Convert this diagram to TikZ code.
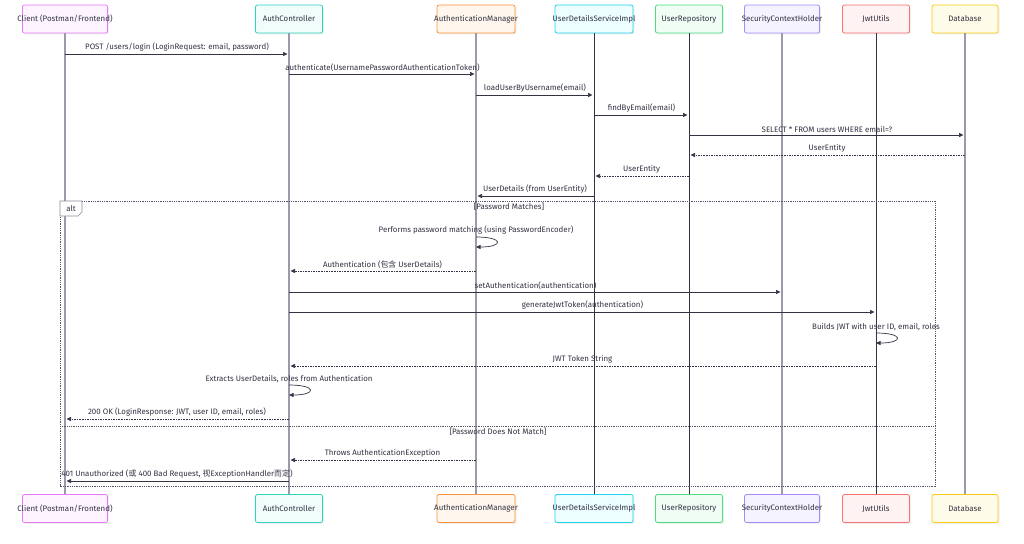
\documentclass[tikz,border=0pt]{standalone}
\usepackage{fontspec}
\setmainfont{Fira Sans}
\newfontfamily\cjk{Noto Sans CJK SC}
\usetikzlibrary{arrows.meta,shadows}
\definecolor{ink}{HTML}{333344}
\definecolor{lifegray}{HTML}{9C9AA8}
\definecolor{framegray}{HTML}{55556A}
\definecolor{ctB}{HTML}{E879F9}\definecolor{ctF}{HTML}{FDF4FF}
\definecolor{acB}{HTML}{2DD4BF}\definecolor{acF}{HTML}{F0FDFA}
\definecolor{amB}{HTML}{FB923C}\definecolor{amF}{HTML}{FFF7ED}
\definecolor{udB}{HTML}{22D3EE}\definecolor{udF}{HTML}{ECFEFF}
\definecolor{urB}{HTML}{4ADE80}\definecolor{urF}{HTML}{F0FDF4}
\definecolor{scB}{HTML}{A78BFA}\definecolor{scF}{HTML}{F5F3FF}
\definecolor{jwB}{HTML}{F87171}\definecolor{jwF}{HTML}{FEF2F2}
\definecolor{dbB}{HTML}{FACC15}\definecolor{dbF}{HTML}{FEFCE8}

\begin{document}
\begin{tikzpicture}[x=1pt,y=-1pt,
  font=\fontsize{7.9}{9.5}\selectfont, text=ink,
  party/.style={rounded corners=2pt, line width=0.8pt, minimum height=28pt, inner sep=0pt,
    drop shadow={opacity=0.12, shadow xshift=1.5pt, shadow yshift=-1.5pt}},
  life/.style={line width=1.3pt, lifegray},
  lifedark/.style={line width=0.8pt, ink},
  msg/.style={ink, line width=0.7pt, shorten >=1.5pt, -{Triangle[length=4.5pt,width=4pt]}},
  reply/.style={msg, dash pattern=on 1.6pt off 1pt},
  lbl/.style={above, inner sep=2.2pt},
  altframe/.style={framegray, line width=0.6pt, dash pattern=on 1pt off 0.8pt}]
\useasboundingbox (0,0) rectangle (1024,543);
\fill[white] (0,0) rectangle (1024,543);
% participants, top and bottom
\node[party, draw=ctB, fill=ctF, minimum width=85pt] (ct) at (65,19) {\makebox[0pt]{Client (Postman/Frontend)}};
\node[party, draw=acB, fill=acF, minimum width=67pt] (ac) at (289,19) {\makebox[0pt]{AuthController}};
\node[party, draw=amB, fill=amF, minimum width=78pt] (am) at (476,19) {\makebox[0pt]{AuthenticationManager}};
\node[party, draw=udB, fill=udF, minimum width=78pt] (ud) at (594,19) {\makebox[0pt]{UserDetailsServiceImpl}};
\node[party, draw=urB, fill=urF, minimum width=67pt] (ur) at (689,19) {\makebox[0pt]{UserRepository}};
\node[party, draw=scB, fill=scF, minimum width=75pt] (sc) at (782,19) {\makebox[0pt]{SecurityContextHolder}};
\node[party, draw=jwB, fill=jwF, minimum width=67pt] (jw) at (876,19) {\makebox[0pt]{JwtUtils}};
\node[party, draw=dbB, fill=dbF, minimum width=66pt] (db) at (965,19) {\makebox[0pt]{Database}};
\node[party, draw=ctB, fill=ctF, minimum width=85pt] (ctb) at (65,508.5) {\makebox[0pt]{Client (Postman/Frontend)}};
\node[party, draw=acB, fill=acF, minimum width=67pt] (acb) at (289,508.5) {\makebox[0pt]{AuthController}};
\node[party, draw=amB, fill=amF, minimum width=78pt] (amb) at (476,508.5) {\makebox[0pt]{AuthenticationManager}};
\node[party, draw=udB, fill=udF, minimum width=78pt] (udb) at (594,508.5) {\makebox[0pt]{UserDetailsServiceImpl}};
\node[party, draw=urB, fill=urF, minimum width=67pt] (urb) at (689,508.5) {\makebox[0pt]{UserRepository}};
\node[party, draw=scB, fill=scF, minimum width=75pt] (scb) at (782,508.5) {\makebox[0pt]{SecurityContextHolder}};
\node[party, draw=jwB, fill=jwF, minimum width=67pt] (jwb) at (876,508.5) {\makebox[0pt]{JwtUtils}};
\node[party, draw=dbB, fill=dbF, minimum width=66pt] (dbb) at (965,508.5) {\makebox[0pt]{Database}};
% lifelines
\draw[life] (ct.south) -- (ctb.north);
\draw[life] (ac.south) -- (acb.north);
\draw[life] (am.south) -- (amb.north);
\draw[lifedark] (ud.south) -- (udb.north);
\draw[lifedark] (ur.south) -- (urb.north);
\draw[life] (sc.south) -- (scb.north);
\draw[lifedark] (jw.south) -- (jwb.north);
\draw[life] (db.south) -- (dbb.north);
% message rows
\coordinate (m1) at (0,54);
\coordinate (m2) at (0,74);
\coordinate (m3) at (0,95);
\coordinate (m4) at (0,115);
\coordinate (m5) at (0,135);
\coordinate (m6) at (0,155);
\coordinate (m7) at (0,176);
\coordinate (m8) at (0,196);
\coordinate (m10) at (0,271);
\coordinate (m11) at (0,292);
\coordinate (m12) at (0,312);
\coordinate (m14) at (0,366);
\coordinate (m16) at (0,419);
\coordinate (m17) at (0,460);
\coordinate (m18) at (0,481);
\draw[msg] (ct |- m1) -- node[lbl] {POST /users/login (LoginRequest: email, password)} (ac |- m1);
\draw[msg] (ac |- m2) -- node[lbl] {authenticate(UsernamePasswordAuthenticationToken)} (am |- m2);
\draw[msg] (am |- m3) -- node[lbl] {loadUserByUsername(email)} (ud |- m3);
\draw[msg] (ud |- m4) -- node[lbl] {findByEmail(email)} (ur |- m4);
\draw[msg] (ur |- m5) -- node[lbl] {SELECT * FROM users WHERE email=?} (db |- m5);
\draw[reply] (db |- m6) -- node[lbl] {UserEntity} (ur |- m6);
\draw[reply] (ur |- m7) -- node[lbl] {UserEntity} (ud |- m7);
\draw[msg] (ud |- m8) -- node[lbl] {UserDetails (from UserEntity)} (am |- m8);
% alt block
\coordinate (fnw) at (60,201);
\coordinate (fse) at (935,486);
\draw[altframe] (fnw) rectangle (fse);
\draw[altframe] (60,426) -- (935,426);
\draw[framegray!70, line width=0.6pt, fill=white] (fnw) -- ++(22,0) -- ++(0,11) -- ++(-4,4) -- ++(-18,0) -- cycle;
\node (alt) at (71,208.5) {alt};
\node (g1) at (509,207) {[Password Matches]};
\node (g2) at (498,432) {[Password Does Not Match]};
% self calls
\coordinate (s1a) at (0,237);
\coordinate (s1b) at (0,247);
\coordinate (s2a) at (0,333);
\coordinate (s2b) at (0,343);
\coordinate (s3a) at (0,385);
\coordinate (s3b) at (0,395);
\draw[msg, shorten >=0pt] (am |- s1a) node[lbl] {Performs password matching (using PasswordEncoder)} .. controls +(28,0) and +(28,0) .. (am |- s1b);
\draw[reply] (am |- m10) -- node[lbl] {Authentication ({\cjk 包含} UserDetails)} (ac |- m10);
\draw[msg] (ac |- m11) -- node[lbl] {setAuthentication(authentication)} (sc |- m11);
\draw[msg] (ac |- m12) -- node[lbl] {generateJwtToken(authentication)} (jw |- m12);
\draw[msg, shorten >=0pt] (jw |- s2a) node[lbl] {Builds JWT with user ID, email, roles} .. controls +(28,0) and +(28,0) .. (jw |- s2b);
\draw[reply] (jw |- m14) -- node[lbl] {JWT Token String} (ac |- m14);
\draw[msg, shorten >=0pt] (ac |- s3a) node[lbl] {Extracts UserDetails, roles from Authentication} .. controls +(28,0) and +(28,0) .. (ac |- s3b);
\draw[reply] (ac |- m16) -- node[lbl] {200 OK (LoginResponse: JWT, user ID, email, roles)} (ct |- m16);
\draw[reply] (am |- m17) -- node[lbl] {Throws AuthenticationException} (ac |- m17);
\draw[msg] (ac |- m18) -- node[lbl] {401 Unauthorized ({\cjk 或} 400 Bad Request, {\cjk 视}ExceptionHandler{\cjk 而定})} (ct |- m18);
\end{tikzpicture}
\end{document}
